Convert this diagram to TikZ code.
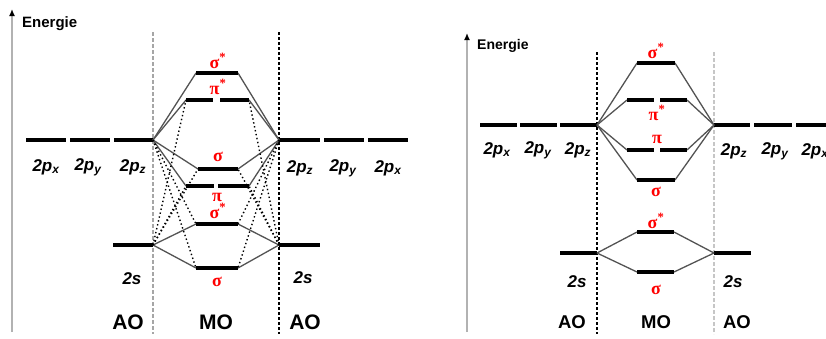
\documentclass[tikz,border=0pt]{standalone}
\usepackage{fontspec}
\setmainfont{Liberation Sans}
\newfontfamily\gkfont{Liberation Serif}
\usetikzlibrary{arrows.meta}
\begin{document}
\begin{tikzpicture}[x=1pt,y=-1pt,
  lvl/.style={line width=3.5pt},
  corr/.style={gray!65!black, line width=1.3pt},
  mix/.style={black, line width=1.4pt, dash pattern=on 1.4pt off 2.6pt},
  lab/.style={font=\bfseries\itshape\fontsize{17}{17}\selectfont, inner sep=0pt},
  aolab/.style={font=\bfseries\fontsize{21}{21}\selectfont, inner sep=0pt},
  aolabs/.style={font=\bfseries\fontsize{18.5}{18.5}\selectfont, inner sep=0pt},
  gk/.style={text=red, font=\gkfont\bfseries\fontsize{18}{18}\selectfont, inner sep=0pt},
  en/.style={font=\bfseries\fontsize{15}{15}\selectfont, inner sep=0pt, anchor=west},
  axis/.style={gray!60, line width=2pt, -{Latex[length=7pt,width=6pt,color=black]}},
  gdash/.style={gray!70, line width=1.2pt, dash pattern=on 4pt off 2pt},
  bdot/.style={black, line width=2pt, dash pattern=on 3pt off 2pt}]
\useasboundingbox (0,0) rectangle (826,338);

% ================= LEFT DIAGRAM =================
\coordinate (Pax0) at (12,332); \coordinate (Pax1) at (12,9);
\draw[axis] (Pax0) -- (Pax1);
\node[en] (Pen) at (22,24) {Energie};
\coordinate (Pv1t) at (153,32); \coordinate (Pv1b) at (153,334);
\coordinate (Pv2t) at (279,32); \coordinate (Pv2b) at (279,334);
\draw[gdash] (Pv1t) -- (Pv1b);
\draw[bdot] (Pv2t) -- (Pv2b);

% AO levels
\coordinate (Ppx1) at (26,140); \coordinate (Ppx2) at (66,140);
\coordinate (Ppy1) at (70,140); \coordinate (Ppy2) at (110,140);
\coordinate (Ppz1) at (114,140); \coordinate (Ppz2) at (153,140);
\coordinate (PRpz1) at (279,140); \coordinate (PRpz2) at (320,140);
\coordinate (PRpy1) at (324,140); \coordinate (PRpy2) at (364,140);
\coordinate (PRpx1) at (368,140); \coordinate (PRpx2) at (408,140);
\coordinate (Ps1) at (113,245); \coordinate (Ps2) at (153,245);
\coordinate (PRs1) at (279,245); \coordinate (PRs2) at (320,245);
\foreach \a/\b in {Ppx1/Ppx2,Ppy1/Ppy2,Ppz1/Ppz2,PRpz1/PRpz2,PRpy1/PRpy2,PRpx1/PRpx2,Ps1/Ps2,PRs1/PRs2}
  \draw[lvl] (\a) -- (\b);

% MO levels
\coordinate (PA1) at (196,73); \coordinate (PA2) at (238,73);
\coordinate (PB1) at (186,100); \coordinate (PBm1) at (213,100); \coordinate (PBm2) at (220,100); \coordinate (PB2) at (249,100);
\coordinate (PC1) at (198,169); \coordinate (PC2) at (238,169);
\coordinate (PD1) at (186,186); \coordinate (PDm1) at (214,186); \coordinate (PDm2) at (218,186); \coordinate (PD2) at (249,186);
\coordinate (PE1) at (196,224); \coordinate (PE2) at (238,224);
\coordinate (PF1) at (196,268); \coordinate (PF2) at (238,268);

% correlation lines
\foreach \t in {PA1,PB1,PC1,PD1} \draw[corr] (Ppz2) -- (\t);
\foreach \t in {PA2,PB2,PC2,PD2} \draw[corr] (PRpz1) -- (\t);
\foreach \t in {PE1,PF1} \draw[corr] (Ps2) -- (\t);
\foreach \t in {PE2,PF2} \draw[corr] (PRs1) -- (\t);
% s-p mixing
\foreach \t in {PB1,PC1,PD1} \draw[mix] (Ps2) -- (\t);
\foreach \t in {PB2,PC2,PD2} \draw[mix] (PRs1) -- (\t);
\foreach \t in {PE1,PF1} \draw[mix] (Ppz2) -- (\t);
\foreach \t in {PE2,PF2} \draw[mix] (PRpz1) -- (\t);

\foreach \a/\b in {PA1/PA2,PB1/PBm1,PBm2/PB2,PC1/PC2,PD1/PDm1,PDm2/PD2,PE1/PE2,PF1/PF2}
  \draw[lvl] (\a) -- (\b);

% labels
\node[lab] (Plpx) at (46,167) {2p\textsubscript{x}};
\node[lab] (Plpy) at (88,167) {2p\textsubscript{y}};
\node[lab] (Plpz) at (133,167) {2p\textsubscript{z}};
\node[lab] (PRlpz) at (300,168) {2p\textsubscript{z}};
\node[lab] (PRlpy) at (343,168) {2p\textsubscript{y}};
\node[lab] (PRlpx) at (388,168) {2p\textsubscript{x}};
\node[lab] (Pls) at (132,279) {2s};
\node[lab] (PRls) at (303,278) {2s};
\node[aolab] (Pao1) at (128,322) {AO};
\node[aolab] (Pmo) at (216,322) {MO};
\node[aolab] (Pao2) at (305,322) {AO};
\node[gk] (PgA) at (218,61) {σ\textsuperscript{*}};
\node[gk] (PgB) at (218,87) {π\textsuperscript{*}};
\node[gk] (PgC) at (218,157) {σ};
\node[gk] (PgD) at (217,197) {π};
\node[gk] (PgE) at (218,211) {σ\textsuperscript{*}};
\node[gk] (PgF) at (217,282) {σ};

% ================= RIGHT DIAGRAM =================
\coordinate (Qax0) at (467,332); \coordinate (Qax1) at (467,33);
\draw[axis] (Qax0) -- (Qax1);
\node[en, font=\bfseries\fontsize{14}{14}\selectfont] (Qen) at (477,46) {Energie};
\coordinate (Qv1t) at (597,52); \coordinate (Qv1b) at (597,334);
\coordinate (Qv2t) at (714,52); \coordinate (Qv2b) at (714,334);
\draw[bdot, line width=1.5pt] (Qv1t) -- (Qv1b);
\draw[gdash, gray!45] (Qv2t) -- (Qv2b);

\coordinate (Qpx1) at (480,125); \coordinate (Qpx2) at (517,125);
\coordinate (Qpy1) at (520,125); \coordinate (Qpy2) at (557,125);
\coordinate (Qpz1) at (560,125); \coordinate (Qpz2) at (597,125);
\coordinate (QRpz1) at (714,125); \coordinate (QRpz2) at (750,125);
\coordinate (QRpy1) at (754,125); \coordinate (QRpy2) at (792,125);
\coordinate (QRpx1) at (796,125); \coordinate (QRpx2) at (832,125);
\coordinate (Qs1) at (560,253); \coordinate (Qs2) at (597,253);
\coordinate (QRs1) at (714,253); \coordinate (QRs2) at (751,253);
\foreach \a/\b in {Qpx1/Qpx2,Qpy1/Qpy2,Qpz1/Qpz2,QRpz1/QRpz2,QRpy1/QRpy2,QRpx1/QRpx2,Qs1/Qs2,QRs1/QRs2}
  \draw[lvl] (\a) -- (\b);

\coordinate (QA1) at (637,63); \coordinate (QA2) at (675,63);
\coordinate (QB1) at (627,100); \coordinate (QBm1) at (654,100); \coordinate (QBm2) at (660,100); \coordinate (QB2) at (687,100);
\coordinate (QC1) at (627,150); \coordinate (QCm1) at (654,150); \coordinate (QCm2) at (660,150); \coordinate (QC2) at (687,150);
\coordinate (QD1) at (637,180); \coordinate (QD2) at (675,180);
\coordinate (QE1) at (637,232); \coordinate (QE2) at (674,232);
\coordinate (QF1) at (637,272); \coordinate (QF2) at (674,272);

\foreach \t in {QA1,QB1,QC1,QD1} \draw[corr] (Qpz2) -- (\t);
\foreach \t in {QA2,QB2,QC2,QD2} \draw[corr] (QRpz1) -- (\t);
\foreach \t in {QE1,QF1} \draw[corr] (Qs2) -- (\t);
\foreach \t in {QE2,QF2} \draw[corr] (QRs1) -- (\t);

\foreach \a/\b in {QA1/QA2,QB1/QBm1,QBm2/QB2,QC1/QCm1,QCm2/QC2,QD1/QD2,QE1/QE2,QF1/QF2}
  \draw[lvl] (\a) -- (\b);

\node[lab] (Qlpx) at (497,150) {2p\textsubscript{x}};
\node[lab] (Qlpy) at (538,150) {2p\textsubscript{y}};
\node[lab] (Qlpz) at (578,150) {2p\textsubscript{z}};
\node[lab] (QRlpz) at (734,151) {2p\textsubscript{z}};
\node[lab] (QRlpy) at (775,151) {2p\textsubscript{y}};
\node[lab] (QRlpx) at (815,151) {2p\textsubscript{x}};
\node[lab] (Qls) at (577,282) {2s};
\node[lab] (QRls) at (733,282) {2s};
\node[aolabs] (Qao1) at (572,322) {AO};
\node[aolabs] (Qmo) at (656,322) {MO};
\node[aolabs] (Qao2) at (737,322) {AO};
\node[gk] (QgA) at (656,51) {σ\textsuperscript{*}};
\node[gk] (QgB) at (657,113) {π\textsuperscript{*}};
\node[gk] (QgC) at (657,139) {π};
\node[gk] (QgD) at (656,192) {σ};
\node[gk] (QgE) at (656,221) {σ\textsuperscript{*}};
\node[gk] (QgF) at (656,290) {σ};
\end{tikzpicture}
\end{document}
